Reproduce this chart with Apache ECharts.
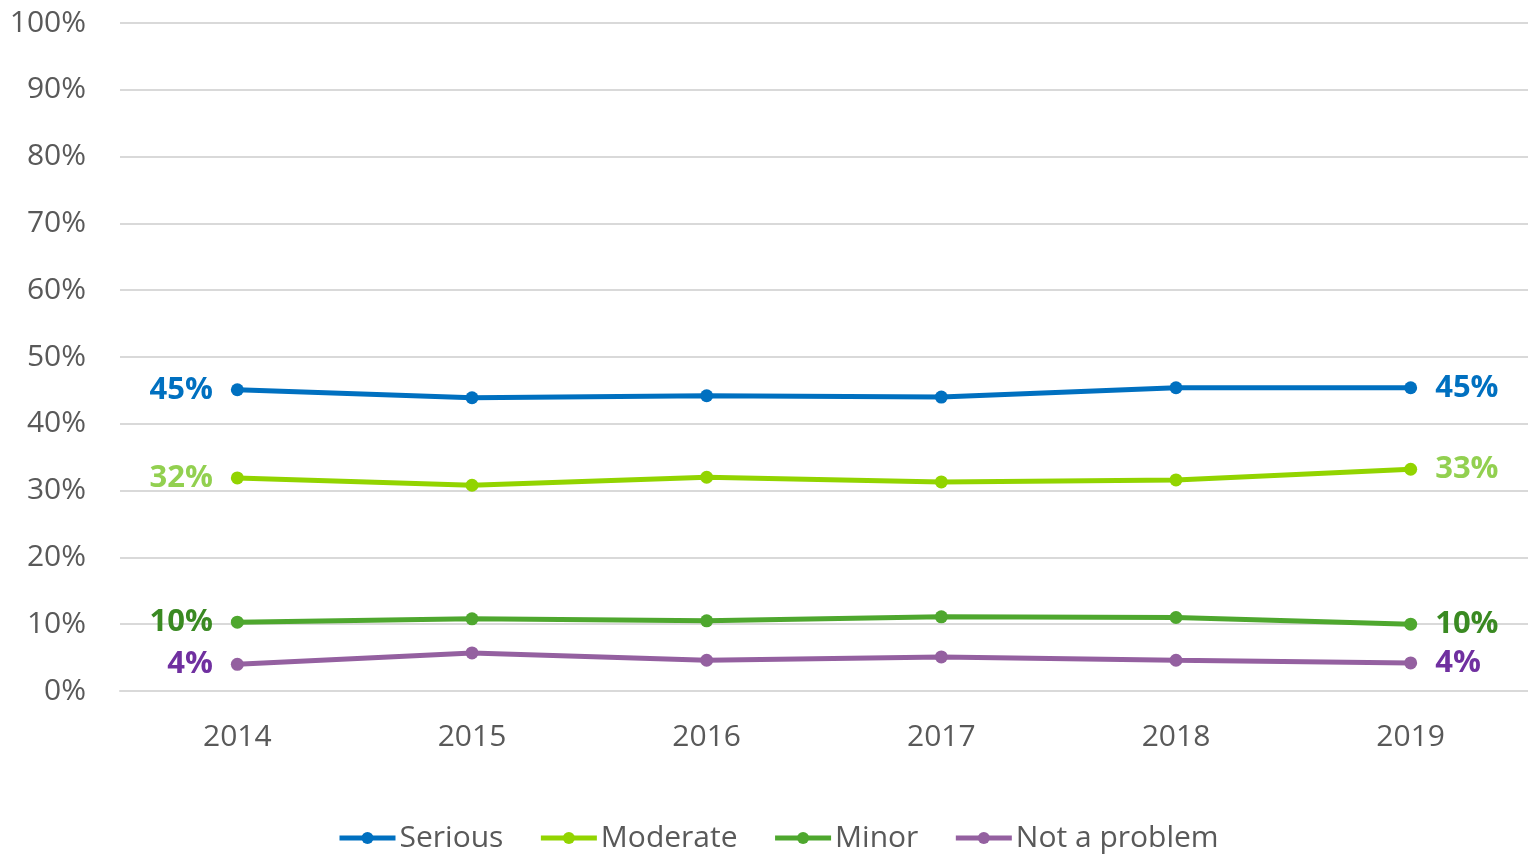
<!DOCTYPE html>
<html>
<head>
<meta charset="utf-8">
<script src="https://cdn.jsdelivr.net/npm/echarts@6/dist/echarts.min.js"></script>
<style>html,body{margin:0;padding:0;background:#fff}#c{width:1528px;height:855px}</style>
</head>
<body>
<div id="c"></div>
<script>
var categories = ['2014','2015','2016','2017','2018','2019'];
var seriesNames = ['Serious','Moderate','Minor','Not a problem'];
var serious = [45.1, 43.9, 44.2, 44.0, 45.4, 45.4];
var moderate = [31.9, 30.8, 32.0, 31.3, 31.6, 33.2];
var minor = [10.3, 10.8, 10.5, 11.1, 11.0, 10.0];
var notAProblem = [4.0, 5.7, 4.6, 5.1, 4.6, 4.2];
var yTicks = [0,10,20,30,40,50,60,70,80,90,100];

var lineColors = ['#0070C0', '#92D400', '#4EA72E', '#9460A0'];
var labelColors = ['#0070C0', '#92D050', '#3A8A22', '#7030A0'];
var allData = [serious, moderate, minor, notAProblem];
var FONT = '"Open Sans", "Noto Sans", sans-serif';

var chart = echarts.init(document.getElementById('c'));
var series = allData.map(function(vals, i){
  var last = vals.length - 1;
  return {
    name: seriesNames[i],
    type: 'line',
    data: vals.map(function(v, j){
      var d = {value: v};
      if (j === 0 || j === last) {
        d.label = {
          show: true,
          position: j === 0 ? 'left' : 'right',
          distance: 18,
          formatter: function(p){ return Math.round(p.value) + '%'; },
          color: labelColors[i],
          fontSize: 31,
          fontWeight: 'bold',
          fontFamily: FONT
        };
      }
      return d;
    }),
    symbol: 'circle',
    symbolSize: 13,
    lineStyle: {width: 5, color: lineColors[i]},
    itemStyle: {color: lineColors[i]},
    emphasis: {disabled: true},
    animation: false
  };
});

chart.setOption({
  animation: false,
  grid: {left: 120, right: 0, top: 23, bottom: 164, containLabel: false},
  legend: {
    bottom: -3,
    left: 332,
    itemWidth: 56,
    itemHeight: 15,
    itemGap: 35,
    lineStyle: {width: 5},
    textStyle: {fontSize: 30, color: '#595959', fontFamily: FONT, padding: [0,0,0,-1]},
    data: seriesNames.map(function(n){ return {name: n}; })
  },
  xAxis: {
    type: 'category',
    data: categories,
    boundaryGap: true,
    axisLine: {show: true, lineStyle: {color: '#d9d9d9', width: 2}},
    axisTick: {show: false},
    axisLabel: {fontSize: 30, color: '#595959', fontFamily: FONT, margin: 31}
  },
  yAxis: {
    type: 'value',
    min: yTicks[0],
    max: yTicks[yTicks.length - 1],
    interval: 10,
    axisLine: {show: false},
    axisTick: {show: false},
    splitLine: {lineStyle: {color: '#d9d9d9', width: 2}},
    axisLabel: {fontSize: 30, color: '#595959', fontFamily: FONT, margin: 34, formatter: '{value}%'}
  },
  series: series
});
</script>
</body>
</html>
